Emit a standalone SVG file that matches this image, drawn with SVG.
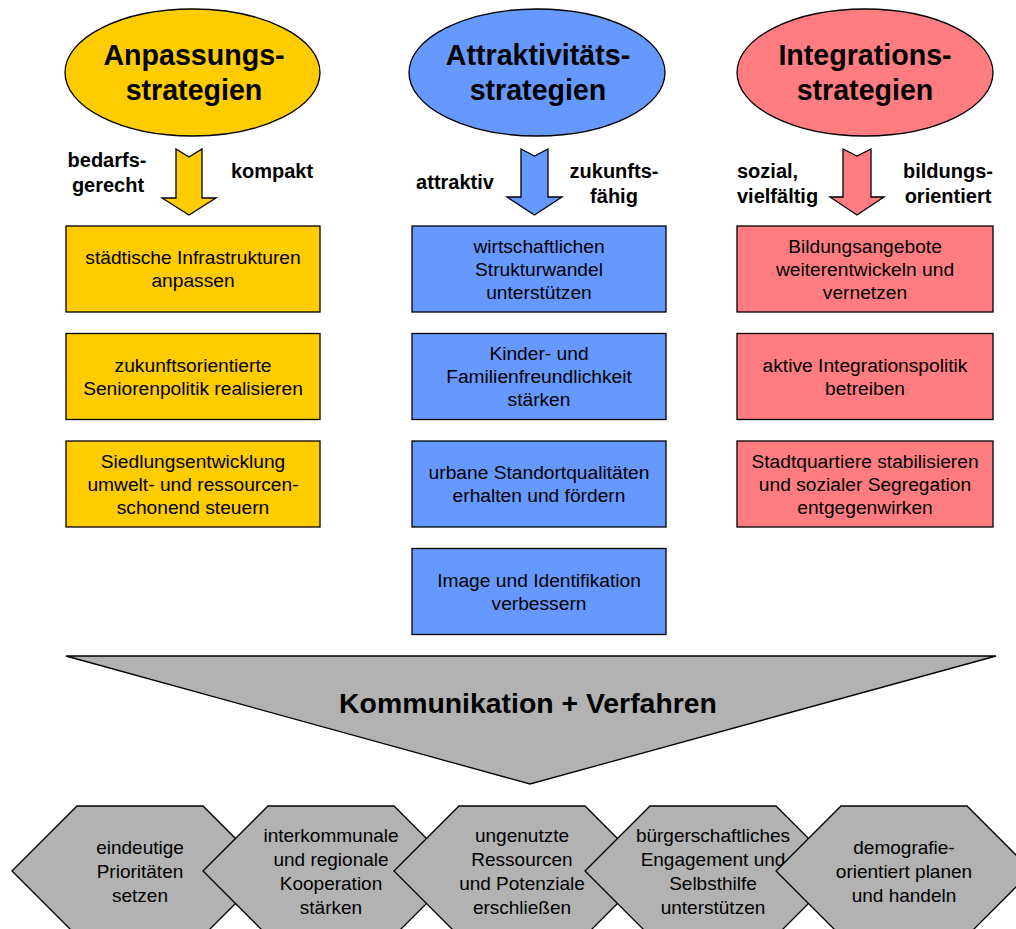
<svg xmlns="http://www.w3.org/2000/svg" width="1016" height="929" viewBox="0 0 1016 929">
<style>
text{font-family:"Liberation Sans",Arial,sans-serif;fill:#000;text-anchor:middle}
.title{font-size:28.6px;font-weight:bold}
.lbl{font-size:20px;font-weight:bold}
.box{font-size:19.2px}
.hexT{font-size:19px}
.big{font-size:28.4px;font-weight:bold}
.y{fill:#FFCC00;stroke:#000;stroke-width:1.3}
.b{fill:#6699FF;stroke:#000;stroke-width:1.3}
.r{fill:#FF7C80;stroke:#000;stroke-width:1.3}
.g{fill:#B2B2B2;stroke:#000;stroke-width:1.3;stroke-linejoin:miter}
</style>
<rect width="1016" height="929" fill="#fff"/>

<g id="ellipse-anpassung">
<ellipse class="y" cx="192.5" cy="72.5" rx="127.5" ry="63.5"/>
<text class="title" x="194" y="65">Anpassungs-</text>
<text class="title" x="194" y="100">strategien</text>
</g>
<g id="ellipse-attraktivitaet">
<ellipse class="b" cx="537" cy="72.5" rx="128" ry="63.5"/>
<text class="title" x="538" y="65">Attraktivitäts-</text>
<text class="title" x="538" y="100">strategien</text>
</g>
<g id="ellipse-integration">
<ellipse class="r" cx="865" cy="72.5" rx="128" ry="63.5"/>
<text class="title" x="865" y="65">Integrations-</text>
<text class="title" x="865" y="100">strategien</text>
</g>

<g id="connectors">
<path class="y" d="M176,149 L189,157 L202,149 L202,198 L216,198 L189,215 L162,198 L176,198 Z"/>
<path class="b" d="M521,149 L534.5,156 L548,149 L548,197 L562,197 L534.5,215 L507,197 L521,197 Z"/>
<path class="r" d="M843,149 L857,156 L871,149 L871,197 L884,197 L857,215 L830,197 L843,197 Z"/>
</g>

<g id="labels-anpassung">
<text class="lbl" x="107" y="167">bedarfs-</text>
<text class="lbl" x="108" y="192">gerecht</text>
<text class="lbl" x="272" y="178">kompakt</text>
</g>
<g id="labels-attraktivitaet">
<text class="lbl" x="455" y="189">attraktiv</text>
<text class="lbl" x="614" y="178">zukunfts-</text>
<text class="lbl" x="614" y="203">fähig</text>
</g>
<g id="labels-integration">
<text class="lbl" x="737" y="178" style="text-anchor:start">sozial,</text>
<text class="lbl" x="737" y="203" style="text-anchor:start">vielfältig</text>
<text class="lbl" x="948" y="178">bildungs-</text>
<text class="lbl" x="948" y="203">orientiert</text>
</g>

<g id="box-y1"><rect class="y" x="66" y="226" width="254" height="86"/>
<text class="box" x="193" y="264">städtische Infrastrukturen</text><text class="box" x="193" y="287">anpassen</text></g>
<g id="box-y2"><rect class="y" x="66" y="333.5" width="254" height="86"/>
<text class="box" x="193" y="372">zukunftsorientierte</text><text class="box" x="193" y="395">Seniorenpolitik realisieren</text></g>
<g id="box-y3"><rect class="y" x="66" y="441" width="254" height="86"/>
<text class="box" x="193" y="468">Siedlungsentwicklung</text><text class="box" x="193" y="491">umwelt- und ressourcen-</text><text class="box" x="193" y="514">schonend steuern</text></g>

<g id="box-b1"><rect class="b" x="412" y="226" width="254" height="86"/>
<text class="box" x="539" y="252.5">wirtschaftlichen</text><text class="box" x="539" y="275.5">Strukturwandel</text><text class="box" x="539" y="298.5">unterstützen</text></g>
<g id="box-b2"><rect class="b" x="412" y="333.5" width="254" height="86"/>
<text class="box" x="539" y="360">Kinder- und</text><text class="box" x="539" y="383">Familienfreundlichkeit</text><text class="box" x="539" y="406">stärken</text></g>
<g id="box-b3"><rect class="b" x="412" y="441" width="254" height="86"/>
<text class="box" x="539" y="479">urbane Standortqualitäten</text><text class="box" x="539" y="502">erhalten und fördern</text></g>
<g id="box-b4"><rect class="b" x="412" y="548.5" width="254" height="86"/>
<text class="box" x="539" y="587">Image und Identifikation</text><text class="box" x="539" y="610">verbessern</text></g>

<g id="box-r1"><rect class="r" x="737" y="226" width="256" height="86"/>
<text class="box" x="865" y="252.5">Bildungsangebote</text><text class="box" x="865" y="275.5">weiterentwickeln und</text><text class="box" x="865" y="298.5">vernetzen</text></g>
<g id="box-r2"><rect class="r" x="737" y="333.5" width="256" height="86"/>
<text class="box" x="865" y="372">aktive Integrationspolitik</text><text class="box" x="865" y="395">betreiben</text></g>
<g id="box-r3"><rect class="r" x="737" y="441" width="256" height="86"/>
<text class="box" x="865" y="468">Stadtquartiere stabilisieren</text><text class="box" x="865" y="491">und sozialer Segregation</text><text class="box" x="865" y="514">entgegenwirken</text></g>

<g id="kommunikation">
<path class="g" d="M66,656 L996,656 L530,784 Z"/>
<text class="big" x="528" y="713">Kommunikation + Verfahren</text>
</g>

<g id="hex1"><path class="g" d="M12,871 L77,806 L203,806 L268,871 L203,936 L77,936 Z"/>
<text class="hexT" x="140" y="854">eindeutige</text><text class="hexT" x="140" y="878">Prioritäten</text><text class="hexT" x="140" y="902">setzen</text></g>
<g id="hex2"><path class="g" d="M203,871 L268,806 L394,806 L459,871 L394,936 L268,936 Z"/>
<text class="hexT" x="331" y="842">interkommunale</text><text class="hexT" x="331" y="866">und regionale</text><text class="hexT" x="331" y="890">Kooperation</text><text class="hexT" x="331" y="914">stärken</text></g>
<g id="hex3"><path class="g" d="M394,871 L459,806 L585,806 L650,871 L585,936 L459,936 Z"/>
<text class="hexT" x="522" y="842">ungenutzte</text><text class="hexT" x="522" y="866">Ressourcen</text><text class="hexT" x="522" y="890">und Potenziale</text><text class="hexT" x="522" y="914">erschließen</text></g>
<g id="hex4"><path class="g" d="M585,871 L650,806 L776,806 L841,871 L776,936 L650,936 Z"/>
<text class="hexT" x="713" y="842">bürgerschaftliches</text><text class="hexT" x="713" y="866">Engagement und</text><text class="hexT" x="713" y="890">Selbsthilfe</text><text class="hexT" x="713" y="914">unterstützen</text></g>
<g id="hex5"><path class="g" d="M776,871 L841,806 L967,806 L1032,871 L967,936 L841,936 Z"/>
<text class="hexT" x="904" y="854">demografie-</text><text class="hexT" x="904" y="878">orientiert planen</text><text class="hexT" x="904" y="902">und handeln</text></g>
</svg>
